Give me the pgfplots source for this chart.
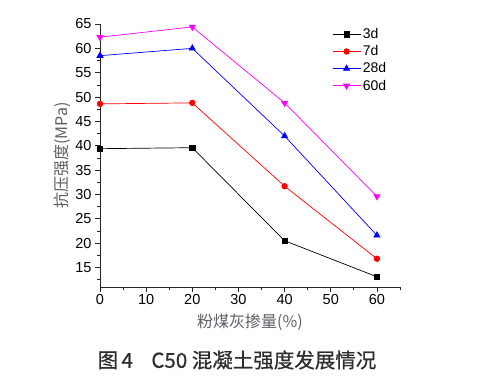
\documentclass[border=0pt]{standalone}
\usepackage{pgfplots}
\pgfplotsset{compat=1.18}
\usepackage{fontspec}
\setmainfont{Liberation Sans}
\newfontfamily\cjk{Noto Sans CJK SC}
\newfontfamily\cjkb[FakeBold=0.6]{Noto Sans CJK SC}
\definecolor{lbl}{HTML}{5E5E66}
\definecolor{ttl}{HTML}{2E2E2E}
\definecolor{mag}{HTML}{FF00FF}
\begin{document}
\begin{tikzpicture}[x=1pt,y=1pt]
\useasboundingbox (-100,-93) rectangle (377,287);
\begin{axis}[
  at={(0,0)}, anchor=origin,
  scale only axis, width=300pt, height=263pt,
  xmin=0, xmax=65, ymin=11, ymax=65,
  axis x line*=bottom, axis y line*=left,
  axis line style={black!85, line width=0.8pt},
  xtick={0,10,...,60}, minor xtick={5,15,...,65},
  ytick={15,20,...,65}, minor ytick={12.5,17.5,...,62.5},
  tick align=outside,
  major tick length=5pt, minor tick length=3pt,
  tick style={black!85, line width=0.7pt},
  ticklabel style={font=\fontsize{14.5}{14.5}\selectfont},
  xticklabel style={yshift=1pt},
  /pgf/number format/assume math mode=true,
  xlabel={\cjk\fontsize{16}{16}\selectfont 粉煤灰掺量(\%)},
  ylabel={\cjk\fontsize{16}{16}\selectfont 抗压强度(MPa)},
  label style={text=lbl},
  xlabel style={yshift=-2pt},
  ylabel style={yshift=-2pt},
  legend style={at={(0.77,0.995)}, anchor=north west, draw=none, fill=none,
    font=\fontsize{14}{14}\selectfont, row sep=1.5pt, inner sep=1pt},
  legend cell align=left,
  legend image code/.code={\draw[mark repeat=2,mark phase=2] plot coordinates {(0pt,0pt) (14pt,0pt) (28pt,0pt)};},
  every axis plot/.append style={line width=0.7pt},
]
\addplot[black, mark=square*, mark size=2.6pt] coordinates {(0,39.4) (20,39.6) (40,20.5) (60,13.1)};
\addlegendentry{3d}
\addplot[red, mark=*, mark size=2.8pt] coordinates {(0,48.6) (20,48.8) (40,31.7) (60,16.8)};
\addlegendentry{7d}
\addplot[blue, mark=triangle*, mark size=3.5pt] coordinates {(0,58.5) (20,60.0) (40,42.0) (60,21.6)};
\addlegendentry{28d}
\addplot[mag, mark=triangle*, mark options={rotate=180}, mark size=3.5pt] coordinates {(0,62.3) (20,64.4) (40,48.8) (60,29.6)};
\addlegendentry{60d}
\end{axis}
\node[text=ttl, font=\cjkb\fontsize{20.5}{21}\selectfont] at (137,-73) {图\,4\hspace{0.9em}C50 混凝土强度发展情况};
\end{tikzpicture}
\end{document}
